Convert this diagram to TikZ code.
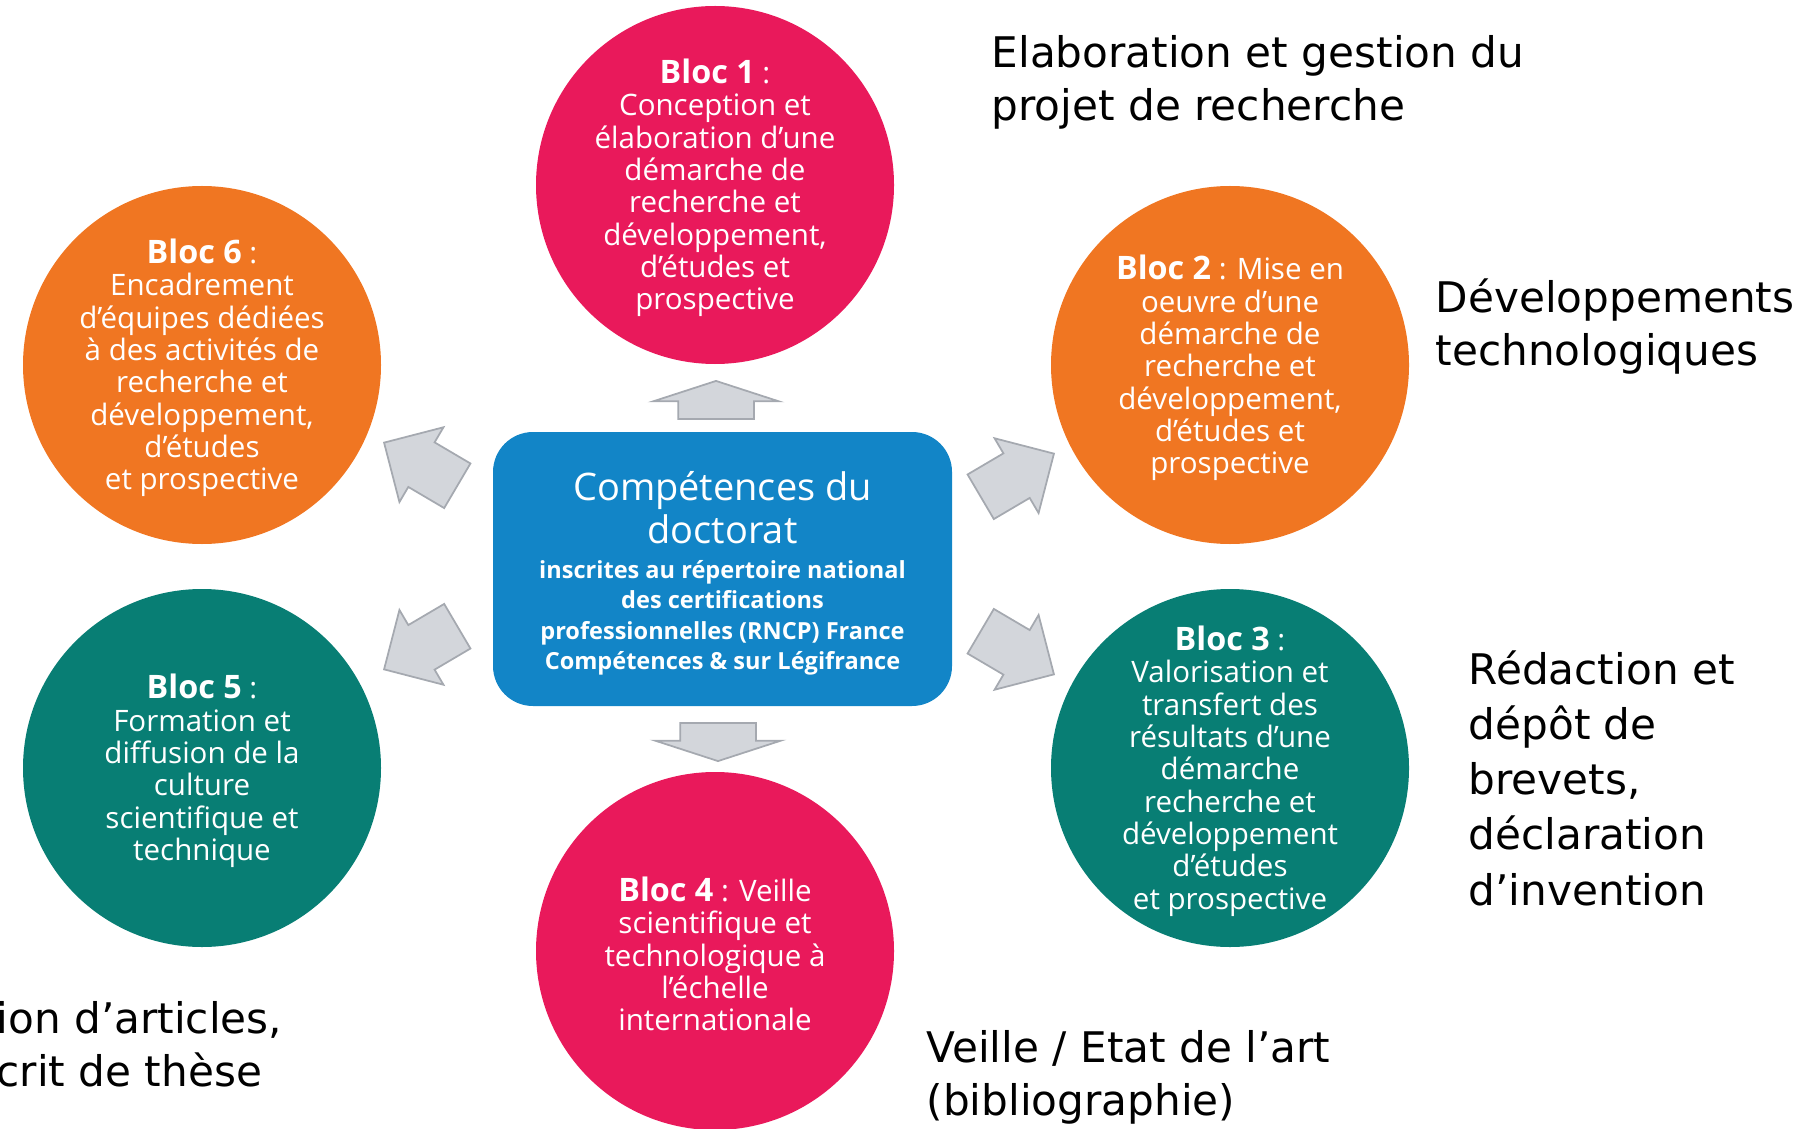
\documentclass[tikz,border=0pt]{standalone}
\usepackage{fontspec}
\setmainfont{Open Sans}
\newfontfamily\labelfont{DejaVu Sans}
\usetikzlibrary{shapes.arrows}

\definecolor{blocpink}{RGB}{233,25,91}
\definecolor{blocorange}{RGB}{240,118,34}
\definecolor{blocteal}{RGB}{8,126,116}
\definecolor{compblue}{RGB}{18,133,199}
\definecolor{arrowfill}{RGB}{211,214,219}
\definecolor{arrowline}{RGB}{165,169,176}

\tikzset{
  bloc/.style={circle, fill=#1, minimum size=3.58cm, inner sep=0pt},
  bloctext/.style={inner sep=0pt, text=white, align=center, yshift=-0.03cm,
    font=\fontsize{8.4}{9.2}\selectfont},
  blocarrow/.style={single arrow, fill=arrowfill, draw=arrowline, line width=0.5pt,
    inner xsep=0pt, anchor=tip},
  sidenote/.style={anchor=north west, inner sep=0pt, align=left,
    font=\labelfont\fontsize{12}{15}\selectfont}
}
\newcommand{\bloctitle}[1]{{\fontsize{9.2}{9.2}\selectfont\bfseries Bloc #1}}

\begin{document}
\begin{tikzpicture}
  \useasboundingbox (0,0) rectangle (18.08,11.28);
  \clip (0,0) rectangle (18.08,11.28);

  % the six blocs round the centre
  \begin{scope}
    \node (b1) [bloc=blocpink] at (7.15,9.43) {};
    \node (b2) [bloc=blocorange] at (12.30,7.63) {};
    \node (b3) [bloc=blocteal] at (12.30,3.60) {};
    \node (b4) [bloc=blocpink] at (7.15,1.77) {};
    \node (b5) [bloc=blocteal] at (2.02,3.60) {};
    \node (b6) [bloc=blocorange] at (2.02,7.63) {};
  \end{scope}

  \node (t1) [bloctext] at (b1) {\bloctitle{1} :\\Conception et\\élaboration d’une\\démarche de\\recherche et\\développement,\\d’études et\\prospective};
  \node (t2) [bloctext] at (b2) {\bloctitle{2} : Mise en\\oeuvre d’une\\démarche de\\recherche et\\développement,\\d’études et\\prospective};
  \node (t3) [bloctext] at (b3) {\bloctitle{3} :\\Valorisation et\\transfert des\\résultats d’une\\démarche\\recherche et\\développement\\d’études\\et prospective};
  \node (t4) [bloctext] at (b4) {\bloctitle{4} : Veille\\scientifique et\\technologique à\\l’échelle\\internationale};
  \node (t5) [bloctext] at (b5) {\bloctitle{5} :\\Formation et\\diffusion de la\\culture\\scientifique et\\technique};
  \node (t6) [bloctext] at (b6) {\bloctitle{6} :\\Encadrement\\d’équipes dédiées\\à des activités de\\recherche et\\développement,\\d’études\\et prospective};

  % centre box
  \node (comp) [rectangle, rounded corners=0.4cm, fill=compblue,
    minimum width=4.59cm, minimum height=2.74cm] at (7.225,5.59) {};
  \node (comptitle) [anchor=north, inner sep=0pt, text=white, align=center,
    font=\fontsize{10.8}{12.2}\selectfont] at (7.225,6.57)
    {Compétences du\\doctorat};
  \node (compsub) [anchor=north, inner sep=0pt, text=white, align=center,
    font=\fontsize{6.7}{8.6}\selectfont\bfseries] at (7.225,5.68)
    {inscrites au répertoire national\\des certifications\\professionnelles (RNCP) France\\Compétences \& sur Légifrance};

  % block arrows
  \begin{scope}[single arrow tip angle=144, single arrow head extend=0.25cm,
      inner ysep=0.37cm, minimum height=0.38cm]
    \node (a1) [blocarrow, rotate=90] at (7.16,7.48) {};
    \node (a4) [blocarrow, rotate=-90] at (7.18,3.66) {};
  \end{scope}
  \begin{scope}[single arrow tip angle=90, single arrow head extend=0.175cm,
      inner ysep=0.25cm, minimum height=0.85cm]
    \node (a6) [blocarrow, rotate=149.5] at (3.83,6.86) {};
    \node (a5) [blocarrow, rotate=210.5] at (3.83,4.58) {};
    \node (a2) [blocarrow, rotate=30.5] at (10.55,6.75) {};
    \node (a3) [blocarrow, rotate=-30.5] at (10.55,4.53) {};
  \end{scope}

  % notes
  \node (l1) [sidenote] at (9.91,10.93) {Elaboration et gestion du\\projet de recherche};
  \node (l2) [sidenote] at (14.35,8.50) {Développements\\technologiques};
  \node (l3) [sidenote, font=\labelfont\fontsize{12}{15.7}\selectfont] at (14.68,4.78) {Rédaction et\\dépôt de\\brevets,\\déclaration\\d’invention};
  \node (l4) [sidenote] at (9.26,0.98) {Veille / Etat de l’art\\(bibliographie)};
  \node (l5) [sidenote] at (-0.04,1.27) {ion d’articles,\\crit de thèse};
\end{tikzpicture}
\end{document}
